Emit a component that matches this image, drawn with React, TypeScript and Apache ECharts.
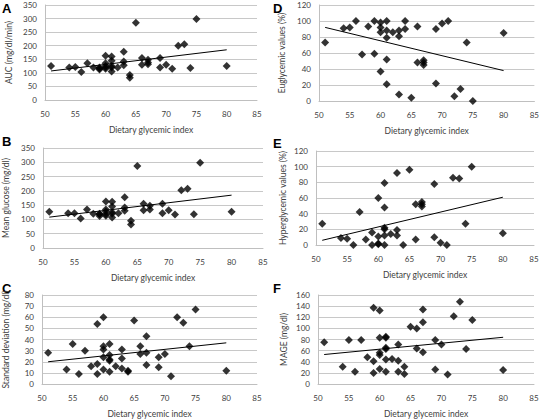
import React, { useEffect, useRef } from "react";
import * as echarts from "echarts";

const xTicks = { min: 50, max: 85, interval: 5 };
const xName = "Dietary glycemic index";

const aucPoints = [
  [51, 125], [54, 120], [55, 122], [56, 103], [57, 135], [58, 120], [59, 120], [59, 112], [59, 116],
  [60, 163], [60, 135], [60, 125], [60, 115], [60, 120], [61, 160], [61, 145], [61, 125], [61, 105],
  [61, 120], [62, 120], [63, 178], [63, 142], [63, 128], [64, 92], [64, 82], [65, 285], [66, 155],
  [66, 130], [67, 148], [67, 138], [67, 132], [69, 155], [69, 120], [70, 130], [71, 115], [72, 200],
  [73, 205], [74, 118], [75, 298], [80, 125],
];
const aucTrend = [[51, 107], [80, 185]];

const meanPoints = [
  [51, 127], [54, 122], [55, 122], [56, 103], [57, 135], [58, 120], [59, 120], [59, 112], [59, 118],
  [60, 163], [60, 135], [60, 128], [60, 118], [60, 113], [61, 162], [61, 145], [61, 125], [61, 107],
  [61, 120], [62, 122], [63, 178], [63, 142], [63, 130], [64, 95], [64, 82], [65, 287], [66, 155],
  [66, 132], [67, 148], [67, 135], [69, 155], [69, 122], [70, 132], [71, 117], [72, 202], [73, 207],
  [74, 118], [75, 298], [80, 127],
];
const meanTrend = [[51, 108], [80, 185]];

const sdPoints = [
  [51, 28], [54, 13], [55, 36], [56, 9], [57, 30], [58, 16], [59, 54], [59, 18], [59, 9], [60, 60],
  [60, 34], [60, 31], [60, 24], [60, 13], [61, 36], [61, 26], [61, 22], [61, 21], [61, 11], [62, 16],
  [63, 31], [63, 23], [63, 14], [64, 12], [64, 11], [65, 57], [66, 34], [66, 27], [67, 43], [67, 28],
  [67, 17], [69, 24], [69, 15], [70, 27], [71, 7], [72, 60], [73, 55], [74, 34], [75, 67], [80, 12],
];
const sdTrend = [[51, 20], [80, 37]];

const euPoints = [
  [51, 73], [54, 91], [55, 92], [56, 100], [57, 58], [58, 93], [59, 100], [59, 59], [60, 98], [60, 92],
  [60, 86], [60, 37], [61, 100], [61, 88], [61, 79], [61, 52], [61, 21], [62, 86], [63, 88], [63, 81],
  [63, 8], [64, 100], [64, 90], [65, 4], [66, 93], [66, 48], [67, 51], [67, 48], [67, 45], [69, 90],
  [69, 22], [70, 97], [71, 100], [72, 6], [73, 15], [74, 73], [75, 0], [80, 85],
];
const euTrend = [[51, 92], [80, 38]];

const hyperPoints = [
  [51, 27], [54, 9], [55, 8], [56, 0], [57, 42], [58, 7], [59, 16], [59, 0], [60, 60], [60, 11],
  [60, 2], [60, 1], [61, 79], [61, 48], [61, 22], [61, 20], [61, 12], [61, 0], [62, 14], [63, 92],
  [63, 19], [63, 12], [64, 0], [65, 96], [66, 52], [66, 7], [67, 55], [67, 52], [67, 49], [69, 78],
  [69, 10], [70, 3], [71, 0], [72, 86], [73, 85], [74, 27], [75, 100], [80, 15],
];
const hyperTrend = [[51, 6], [80, 61]];

const magePoints = [
  [51, 75], [54, 31], [55, 79], [56, 22], [57, 79], [58, 48], [59, 137], [59, 41], [59, 20], [60, 132],
  [60, 83], [60, 56], [60, 52], [60, 27], [61, 85], [61, 83], [61, 65], [61, 63], [61, 44], [61, 22],
  [62, 45], [63, 71], [63, 42], [63, 22], [64, 31], [64, 18], [65, 103], [66, 100], [66, 64], [67, 134],
  [67, 111], [67, 57], [69, 79], [69, 26], [70, 71], [71, 17], [72, 122], [73, 148], [74, 63], [75, 115],
  [80, 25],
];
const mageTrend = [[51, 53], [80, 84]];

const panels = [
  { letter: "A", yName: "AUC (mg/dl/min)", yMax: 350, yStep: 50, points: aucPoints, trend: aucTrend,
    grid: { left: 45, width: 212, top: 5, height: 95 }, letterPos: [2, 2], nameGap: 32 },
  { letter: "D", yName: "Euglycemic values (%)", yMax: 120, yStep: 20, points: euPoints, trend: euTrend,
    grid: { left: 319, width: 217, top: 5, height: 96 }, letterPos: [273, 2], nameGap: 33 },
  { letter: "B", yName: "Mean glucose (mg/dl)", yMax: 350, yStep: 50, points: meanPoints, trend: meanTrend,
    grid: { left: 42, width: 221, top: 148, height: 100 }, letterPos: [2, 135], nameGap: 33 },
  { letter: "E", yName: "Hyperglycemic values (%)", yMax: 120, yStep: 20, points: hyperPoints, trend: hyperTrend,
    grid: { left: 316, width: 218, top: 151, height: 94 }, letterPos: [273, 137], nameGap: 29 },
  { letter: "C", yName: "Standard deviation (mg/dl)", yMax: 80, yStep: 10, points: sdPoints, trend: sdTrend,
    grid: { left: 42, width: 215, top: 295, height: 92 }, letterPos: [2, 282], nameGap: 32 },
  { letter: "F", yName: "MAGE (mg/dl)", yMax: 160, yStep: 20, points: magePoints, trend: mageTrend,
    grid: { left: 318, width: 216, top: 295, height: 89 }, letterPos: [273, 282], nameGap: 30 },
];

const FONT = "Lato, 'Open Sans', sans-serif";
const TXT = "#404040";

export default function App() {
  const ref = useRef<HTMLDivElement>(null);
  useEffect(() => {
    document.body.style.margin = "0";
    const chart = echarts.init(ref.current!, null, { renderer: "svg" });
    const option: any = {
      animation: false,
      backgroundColor: "#ffffff",
      textStyle: { fontFamily: FONT },
      grid: panels.map((p) => ({ ...p.grid, containLabel: false })),
      xAxis: panels.map((p, i) => ({
        gridIndex: i,
        type: "value",
        ...xTicks,
        name: xName,
        nameLocation: "middle",
        nameGap: 25,
        nameTextStyle: { fontSize: 8.5, color: TXT, fontFamily: FONT, fontWeight: "normal" },
        axisLine: { show: true, lineStyle: { color: "#bfbfbf", width: 1 } },
        axisTick: { show: false },
        splitLine: { show: false },
        axisLabel: { fontSize: 8, color: TXT, margin: 10, fontFamily: FONT },
      })),
      yAxis: panels.map((p, i) => ({
        gridIndex: i,
        type: "value",
        min: 0,
        max: p.yMax,
        interval: p.yStep,
        name: p.yName,
        nameLocation: "middle",
        nameGap: p.nameGap,
        nameTextStyle: { fontSize: 8.5, color: TXT, fontFamily: FONT, fontWeight: "normal" },
        axisLine: { show: true, lineStyle: { color: "#bfbfbf", width: 1 } },
        axisTick: { show: false },
        splitLine: { show: true, lineStyle: { color: "#c8c8c8", width: 1 } },
        axisLabel: { fontSize: 8, color: TXT, margin: 8, fontFamily: FONT },
      })),
      series: panels.flatMap((p, i) => [
        {
          type: "scatter",
          xAxisIndex: i,
          yAxisIndex: i,
          data: p.points,
          symbol: "diamond",
          symbolSize: 8,
          itemStyle: { color: "#000000" },
          z: 3,
        },
        {
          type: "line",
          xAxisIndex: i,
          yAxisIndex: i,
          data: p.trend,
          symbol: "none",
          lineStyle: { color: "#000000", width: 1 },
          z: 2,
        },
      ]),
      graphic: panels.map((p) => ({
        type: "text",
        left: p.letterPos[0],
        top: p.letterPos[1],
        style: { text: p.letter, font: "bold 13px Arial, 'Liberation Sans', sans-serif", fill: "#000" },
      })),
    };
    chart.setOption(option);
    return () => chart.dispose();
  }, []);
  return <div ref={ref} style={{ width: 542, height: 419 }} />;
}
